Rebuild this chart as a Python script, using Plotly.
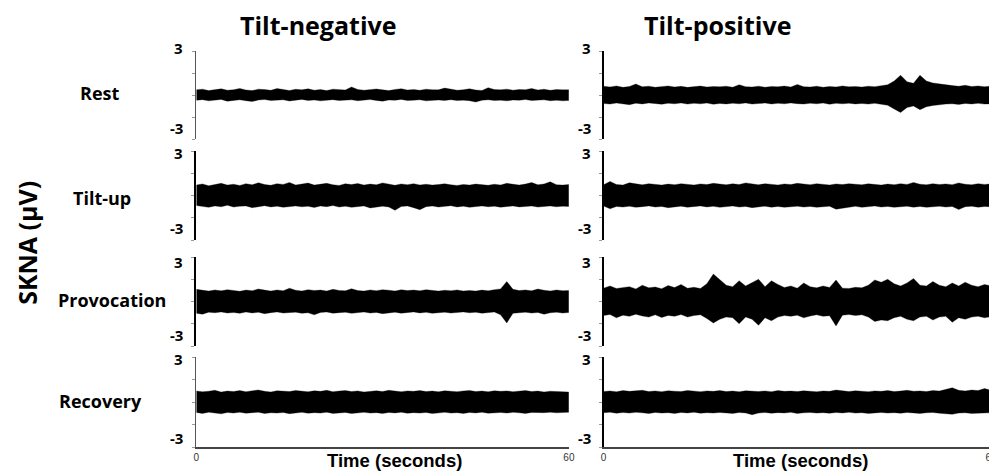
import plotly.graph_objects as go

# ---------------- data (µV envelopes) ----------------
time_s = list(range(0, 61))

conditions = ["Rest", "Tilt-up", "Provocation", "Recovery"]
groups = ["Tilt-negative", "Tilt-positive"]
y_tick_labels = ["3", "-3"]
x_tick_labels = ["0", "60"]
x_title = "Time (seconds)"
y_title = "SKNA (µV)"

# Tilt-negative
neg_rest_upper = [0.35,0.40,0.30,0.38,0.42,0.33,0.36,0.45,0.34,0.30,0.40,0.37,0.32,0.44,0.36,0.31,0.39,0.35,0.42,0.33,
                  0.37,0.30,0.40,0.36,0.34,0.55,0.38,0.33,0.36,0.41,0.35,0.30,0.38,0.43,0.34,0.37,0.32,0.40,0.36,0.35,
                  0.47,0.38,0.33,0.36,0.42,0.34,0.31,0.50,0.37,0.35,0.40,0.33,0.38,0.36,0.45,0.34,0.39,0.32,0.37,0.35,0.36]
neg_rest_lower = [-0.36,-0.32,-0.40,-0.35,-0.30,-0.42,-0.37,-0.33,-0.39,-0.45,-0.34,-0.31,-0.38,-0.36,-0.33,-0.41,-0.35,-0.30,-0.37,-0.34,
                  -0.40,-0.36,-0.32,-0.38,-0.35,-0.33,-0.39,-0.36,-0.31,-0.37,-0.42,-0.34,-0.36,-0.30,-0.38,-0.35,-0.33,-0.40,-0.36,-0.34,
                  -0.37,-0.32,-0.38,-0.35,-0.39,-0.48,-0.36,-0.33,-0.37,-0.35,-0.40,-0.34,-0.36,-0.31,-0.38,-0.35,-0.33,-0.39,-0.36,-0.40,-0.37]
neg_tilt_upper = [0.70,0.78,0.66,0.74,0.82,0.70,0.76,0.68,0.80,0.72,0.86,0.74,0.69,0.80,0.75,0.88,0.71,0.77,0.84,0.70,
                  0.76,0.82,0.73,0.68,0.79,0.74,0.81,0.70,0.77,0.72,0.85,0.75,0.69,0.78,0.73,0.80,0.71,0.76,0.70,0.74,
                  0.79,0.72,0.68,0.75,0.70,0.77,0.73,0.69,0.76,0.71,0.82,0.74,0.70,0.77,0.88,0.72,0.78,0.92,0.73,0.70,0.74]
neg_tilt_lower = [-0.68,-0.74,-0.80,-0.70,-0.76,-0.66,-0.78,-0.72,-0.70,-0.82,-0.75,-0.69,-0.77,-0.72,-0.80,-0.74,-0.70,-0.76,-0.73,-0.81,
                  -0.71,-0.75,-0.68,-0.78,-0.72,-0.80,-0.74,-0.70,-0.84,-0.76,-0.72,-0.78,-1.00,-0.74,-0.70,-0.82,-0.96,-0.75,-0.71,-0.78,
                  -0.73,-0.69,-0.77,-0.72,-0.80,-0.74,-0.70,-0.76,-0.72,-0.79,-0.73,-0.70,-0.77,-0.74,-0.71,-0.78,-0.73,-0.70,-0.76,-0.72,-0.74]
neg_prov_upper = [0.82,0.76,0.70,0.78,0.72,0.80,0.74,0.69,0.77,0.73,0.84,0.75,0.70,0.78,0.72,0.90,0.76,0.71,0.80,0.74,
                  0.77,0.70,0.82,0.75,0.72,0.86,0.74,0.70,0.78,0.73,0.80,0.76,0.71,0.79,0.74,0.77,0.72,0.80,0.75,0.70,
                  0.76,0.73,0.78,0.71,0.74,0.70,0.77,0.72,0.80,0.85,1.35,0.82,0.74,0.78,0.72,0.84,0.76,0.71,0.78,0.73,0.75]
neg_prov_lower = [-0.80,-0.86,-0.72,-0.76,-0.70,-0.78,-0.74,-0.80,-0.71,-0.77,-0.73,-0.82,-0.75,-0.70,-0.78,-0.74,-0.72,-0.80,-0.76,-0.90,
                  -0.74,-0.71,-0.79,-0.75,-0.72,-0.80,-0.76,-0.71,-0.78,-0.74,-0.82,-0.76,-0.72,-0.79,-0.74,-0.70,-0.77,-0.73,-0.80,-0.75,
                  -0.72,-0.78,-0.74,-0.70,-0.76,-0.73,-0.79,-0.74,-0.71,-0.90,-1.45,-0.80,-0.75,-0.72,-0.78,-0.74,-0.86,-0.76,-0.72,-0.78,-0.74]
neg_rec_upper = [0.74,0.68,0.72,0.78,0.66,0.73,0.70,0.76,0.69,0.74,0.80,0.71,0.67,0.75,0.72,0.70,0.77,0.73,0.68,0.75,
                 0.71,0.78,0.69,0.73,0.76,0.70,0.74,0.67,0.72,0.75,0.70,0.78,0.73,0.69,0.74,0.71,0.76,0.70,0.73,0.68,
                 0.75,0.72,0.69,0.74,0.77,0.70,0.73,0.68,0.75,0.71,0.74,0.69,0.72,0.76,0.70,0.73,0.67,0.72,0.70,0.68,0.66]
neg_rec_lower = [-0.70,-0.76,-0.68,-0.73,-0.79,-0.70,-0.74,-0.68,-0.75,-0.71,-0.69,-0.77,-0.72,-0.74,-0.70,-0.78,-0.73,-0.69,-0.75,-0.71,
                 -0.74,-0.68,-0.76,-0.72,-0.70,-0.77,-0.73,-0.69,-0.74,-0.71,-0.76,-0.70,-0.73,-0.68,-0.75,-0.71,-0.74,-0.70,-0.77,-0.72,
                 -0.69,-0.74,-0.71,-0.76,-0.70,-0.73,-0.68,-0.75,-0.72,-0.70,-0.74,-0.69,-0.72,-0.76,-0.70,-0.73,-0.71,-0.68,-0.72,-0.70,-0.69]

# Tilt-positive
pos_rest_upper = [0.60,0.55,0.62,0.52,0.58,0.75,0.56,0.60,0.53,0.58,0.62,0.55,0.59,0.52,0.57,0.61,0.54,0.58,0.56,0.60,
                  0.53,0.70,0.57,0.55,0.60,0.53,0.58,0.56,0.61,0.54,0.72,0.57,0.55,0.60,0.53,0.58,0.55,0.62,0.56,0.58,
                  0.54,0.60,0.57,0.62,0.70,0.95,1.35,0.90,0.80,1.35,0.95,0.82,0.75,0.70,0.64,0.60,0.66,0.58,0.62,0.57,0.60]
pos_rest_lower = [-0.58,-0.62,-0.55,-0.60,-0.66,-0.56,-0.61,-0.54,-0.59,-0.63,-0.56,-0.60,-0.54,-0.62,-0.57,-0.60,-0.55,-0.63,-0.58,-0.61,
                  -0.56,-0.60,-0.54,-0.62,-0.58,-0.55,-0.61,-0.57,-0.60,-0.54,-0.59,-0.62,-0.56,-0.60,-0.55,-0.63,-0.57,-0.60,-0.56,-0.61,
                  -0.58,-0.62,-0.57,-0.63,-0.70,-0.95,-1.20,-0.85,-0.75,-1.00,-0.80,-0.72,-0.66,-0.62,-0.60,-0.64,-0.58,-0.61,-0.57,-0.62,-0.60]
pos_tilt_upper = [0.72,0.95,0.75,0.70,0.86,0.78,0.72,0.80,0.74,0.70,0.77,0.73,0.80,0.75,0.71,0.78,0.74,0.82,0.76,0.72,
                  0.79,0.74,0.85,0.77,0.72,0.80,0.75,0.71,0.78,0.74,0.82,0.77,0.73,0.80,0.75,0.71,0.78,0.74,0.80,0.76,
                  0.72,0.79,0.74,0.70,0.77,0.73,0.80,0.75,0.88,0.76,0.72,0.80,0.74,0.78,0.73,0.85,0.76,0.72,0.80,0.75,0.78]
pos_tilt_lower = [-0.70,-0.90,-0.74,-0.78,-0.72,-0.80,-0.75,-0.70,-0.78,-0.74,-0.82,-0.76,-0.72,-0.79,-0.74,-0.70,-0.77,-0.73,-0.80,-0.75,
                  -0.71,-0.78,-0.74,-0.82,-0.76,-0.72,-0.79,-0.74,-0.80,-0.75,-0.72,-0.78,-0.74,-0.80,-0.76,-0.72,-0.92,-0.85,-0.78,-0.73,
                  -0.80,-0.75,-0.71,-0.78,-0.74,-0.80,-0.76,-0.72,-0.79,-0.74,-0.80,-0.75,-0.72,-0.78,-0.74,-0.95,-0.76,-0.72,-0.79,-0.74,-0.76]
pos_prov_upper = [0.90,1.05,0.88,0.95,1.00,0.85,1.10,0.92,0.98,0.86,1.08,0.94,1.15,0.90,0.96,0.88,1.20,1.85,1.50,1.10,
                  1.00,1.40,1.05,1.30,1.50,1.00,1.40,1.15,0.95,1.05,0.90,1.25,1.00,0.92,1.05,0.95,1.45,0.90,0.88,0.96,
                  0.92,1.10,1.45,1.30,1.50,1.20,1.05,1.25,1.55,1.10,1.05,1.35,1.10,1.00,1.25,1.05,1.30,1.10,1.00,1.15,1.05]
pos_prov_lower = [-0.95,-0.88,-1.10,-0.92,-1.00,-0.86,-0.98,-1.05,-0.90,-1.08,-0.94,-1.00,-0.88,-1.05,-0.95,-0.90,-1.15,-1.45,-1.20,-1.05,
                  -1.10,-1.50,-1.05,-1.20,-1.60,-1.10,-1.30,-1.05,-0.95,-1.00,-0.92,-1.10,-0.98,-0.90,-1.00,-0.96,-1.65,-0.92,-0.88,-0.95,
                  -0.90,-1.05,-1.35,-1.25,-1.30,-1.10,-1.00,-1.20,-1.30,-1.05,-1.00,-1.25,-1.05,-1.00,-1.40,-1.10,-1.20,-1.05,-1.00,-1.10,-1.02]
pos_rec_upper = [0.70,0.74,0.68,0.76,0.71,0.73,0.78,0.70,0.74,0.69,0.75,0.72,0.70,0.77,0.73,0.69,0.74,0.71,0.76,0.70,
                 0.73,0.68,0.75,0.72,0.70,0.74,0.69,0.76,0.71,0.73,0.70,0.75,0.72,0.68,0.74,0.71,0.80,0.73,0.70,0.75,
                 0.72,0.69,0.74,0.71,0.76,0.70,0.73,0.78,0.72,0.74,0.70,0.76,0.73,0.82,0.95,0.78,0.74,0.80,0.76,0.90,0.78]
pos_rec_lower = [-0.72,-0.68,-0.75,-0.70,-0.74,-0.69,-0.72,-0.77,-0.70,-0.74,-0.71,-0.76,-0.70,-0.73,-0.68,-0.75,-0.71,-0.74,-0.70,-0.72,
                 -0.76,-0.70,-0.73,-0.85,-0.74,-0.70,-0.75,-0.71,-0.73,-0.69,-0.76,-0.72,-0.70,-0.74,-0.71,-0.75,-0.70,-0.73,-0.69,-0.74,
                 -0.71,-0.76,-0.72,-0.70,-0.74,-0.71,-0.75,-0.70,-0.73,-0.76,-0.72,-0.70,-0.75,-0.78,-0.82,-0.74,-0.72,-0.76,-0.73,-0.75,-0.72]

envelopes = {
    ("Tilt-negative", "Rest"): (neg_rest_upper, neg_rest_lower),
    ("Tilt-negative", "Tilt-up"): (neg_tilt_upper, neg_tilt_lower),
    ("Tilt-negative", "Provocation"): (neg_prov_upper, neg_prov_lower),
    ("Tilt-negative", "Recovery"): (neg_rec_upper, neg_rec_lower),
    ("Tilt-positive", "Rest"): (pos_rest_upper, pos_rest_lower),
    ("Tilt-positive", "Tilt-up"): (pos_tilt_upper, pos_tilt_lower),
    ("Tilt-positive", "Provocation"): (pos_prov_upper, pos_prov_lower),
    ("Tilt-positive", "Recovery"): (pos_rec_upper, pos_rec_lower),
}

# ---------------- layout geometry (window pixels; page has 8px body margin) ----------------
OFF = 8
W, H = 997 - OFF, 471 - OFF
col_px = {"Tilt-negative": (195, 571, 60.0), "Tilt-positive": (606, 997, 60.0)}
row_px = [(51, 139), (151, 240), (257, 346), (357, 447)]
label3_y = [48, 153, 262, 359]
labelm3_y = [128, 228, 335, 438]
axis_width = {("Tilt-negative", 0): 1, ("Tilt-negative", 3): 1}

def px_x(p):
    return (p - OFF) / W

def px_y(p):
    return 1 - (p - OFF) / H

LABEL_FONT = "Open Sans"

fig = go.Figure()
layout = {}
annotations = []
n = 0
for g in groups:
    x0, x1, xmax = col_px[g]
    for r, cond in enumerate(conditions):
        n += 1
        xa = "x" if n == 1 else f"x{n}"
        ya = "y" if n == 1 else f"y{n}"
        up, lo = envelopes[(g, cond)]
        fig.add_trace(go.Scatter(x=time_s, y=lo, mode="lines", line=dict(color="black", width=0.3),
                                 xaxis=xa, yaxis=ya, showlegend=False, hoverinfo="skip"))
        fig.add_trace(go.Scatter(x=time_s, y=up, mode="lines", line=dict(color="black", width=0.3),
                                 fill="tonexty", fillcolor="black",
                                 xaxis=xa, yaxis=ya, showlegend=False, hoverinfo="skip"))
        top, bot = row_px[r]
        bottom_row = (r == 3)
        lw = axis_width.get((g, r), 2)
        layout["xaxis" if n == 1 else f"xaxis{n}"] = dict(
            domain=[px_x(x0), px_x(x1)], range=[0, xmax], anchor=ya,
            showgrid=False, zeroline=False,
            showline=bottom_row, linecolor="#444", linewidth=1.5,
            showticklabels=bottom_row, tickvals=[0, 60], ticktext=x_tick_labels,
            ticks="", tickfont=dict(family="Liberation Sans", size=10, color="#333"),
        )
        layout["yaxis" if n == 1 else f"yaxis{n}"] = dict(
            domain=[px_y(bot), px_y(top)], range=[-3, 3], anchor=xa,
            showgrid=False, zeroline=False, showline=True,
            linecolor="#555" if lw == 1 else "black", linewidth=lw,
            ticks="outside", ticklen=3, tickwidth=1, tickcolor="#999",
            tickvals=[-3, -1.5, 0, 1.5, 3], showticklabels=False,
        )
        # tick labels 3 / -3
        annotations.append(dict(x=px_x(x0 - 11), y=px_y(label3_y[r]), xref="paper", yref="paper",
                                text=f"<b>{y_tick_labels[0]}</b>", showarrow=False, xanchor="right", yanchor="middle",
                                font=dict(family=LABEL_FONT, size=15, color="black")))
        annotations.append(dict(x=px_x(x0 - 11), y=px_y(labelm3_y[r]), xref="paper", yref="paper",
                                text=f"<b>{y_tick_labels[1]}</b>", showarrow=False, xanchor="right", yanchor="middle",
                                font=dict(family=LABEL_FONT, size=15, color="black")))
    # x-axis title under each column
    annotations.append(dict(x=px_x({"Tilt-negative": 395, "Tilt-positive": 805}[g]), y=px_y(460),
                            xref="paper", yref="paper", text=f"<b>{x_title}</b>", showarrow=False,
                            xanchor="center", yanchor="middle",
                            font=dict(family="Liberation Sans", size=18.5, color="black")))

# column titles
for g, cx in zip(groups, [318, 721]):
    annotations.append(dict(x=px_x(cx), y=px_y(25), xref="paper", yref="paper", text=f"<b>{g}</b>",
                            showarrow=False, xanchor="center", yanchor="middle",
                            font=dict(family=LABEL_FONT, size=25, color="black")))
# row labels
for cond, cx, cy in zip(conditions, [97, 100, 110, 98], [93, 198, 300, 401]):
    annotations.append(dict(x=px_x(cx), y=px_y(cy), xref="paper", yref="paper", text=f"<b>{cond}</b>",
                            showarrow=False, xanchor="center", yanchor="middle",
                            font=dict(family=LABEL_FONT, size=18, color="black")))
# y title
annotations.append(dict(x=px_x(24), y=px_y(243), xref="paper", yref="paper", text=f"<b>{y_title}</b>",
                        showarrow=False, textangle=-90, xanchor="center", yanchor="middle",
                        font=dict(family=LABEL_FONT, size=25, color="black")))

fig.update_layout(
    width=W, height=H, margin=dict(l=0, r=0, t=0, b=0),
    paper_bgcolor="white", plot_bgcolor="white",
    annotations=annotations, **layout,
)
fig.write_html("out.html")
